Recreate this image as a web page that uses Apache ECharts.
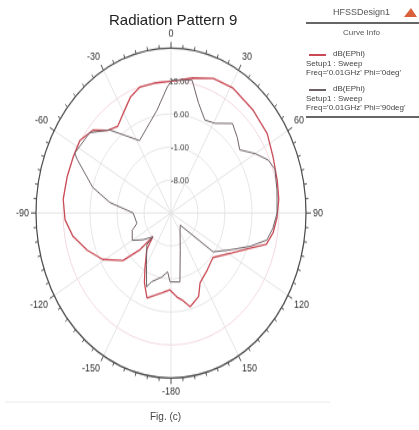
<!DOCTYPE html>
<html>
<head>
<meta charset="utf-8">
<script src="https://cdn.jsdelivr.net/npm/echarts@6/dist/echarts.min.js"></script>
<style>
html, body { margin: 0; padding: 0; background: #fff; }
#wrap { position: relative; width: 419px; height: 430px; overflow: hidden; }
/* the HFSS plot is an ellipse, so the polar chart gets stretched vertically */
#polar { position: absolute; left: 0; top: 0; width: 419px; height: 352px; transform: scaleY(1.222); transform-origin: 0 0; }
#frame { position: absolute; left: 0; top: 0; width: 419px; height: 430px; pointer-events: none; }
</style>
</head>
<body>
<div id="wrap">
  <div id="polar"></div>
  <div id="frame"></div>
</div>
<script>
// radius rings (dB)
var ringMin = -15
var ringMax = 20
var ringStep = 7

// dB(EPhi), Phi = 0deg  (angle in deg, clockwise from top)
var phi0Angle = [0.5, 11, 21, 31, 44, 56, 66, 76, 84, 92, 99, 105, 110, 118, 131, 142, 153, 158, 166, 171, 175, -179, -172, -161, -155, -150, -141, -137, -134, -129, -119, -110, -101, -93, -84, -74, -65, -57, -49, -43, -37, -30, -23, -17, -9, 0.5]
var phi0Db = [13.0, 14.2, 15.6, 16.0, 15.5, 15.1, 14.0, 13.4, 13.1, 12.5, 11.8, 10.6, 6.8, 3.0, -0.6, 0.3, 1.6, 4.1, 5.5, 3.7, 2.9, 1.3, 2.1, 4.1, 1.3, -1.5, -5.0, -8.1, -3.8, 1.0, 5.3, 8.1, 10.9, 12.5, 13.1, 13.0, 13.0, 13.2, 11.8, 9.0, 8.0, 9.6, 11.8, 12.9, 12.9, 13.0]

// dB(EPhi), Phi = 90deg
var phi90Angle = [0.5, 11, 17, 24, 31, 40, 47, 53, 60, 66, 71, 80, 90, 97, 103, 109, 117, 127, 137, 150, 163, 171, -179, -176, -170, -161, -158, -150, -137, -137, -128, -120, -110, -104, -90, -87, -82, -75, -65, -63, -51, -42, -28, -9.5, -2, 0.5]
var phi90Db = [13.2, 13.7, 9.4, 6.6, 7.2, 9.8, 8.5, 7.3, 10.2, 12.6, 13.5, 12.9, 12.5, 11.6, 10.5, 6.7, 2.2, -1.3, -11.5, -10.3, -6.8, -0.2, -0.4, -2.5, -1.2, 0.4, 1.9, -2.3, -5.8, -8.1, -5.8, -3.4, -4.3, -5.9, -5.2, -3.6, 1.0, 6.0, 11.8, 13.0, 12.1, 8.7, 2.4, 7.1, 11.8, 13.2]

var seriesNames = ["dB(EPhi)", "dB(EPhi)"]
var seriesColors = ['#c94a55', '#6e6266']
var legendLines = [
  ["dB(EPhi)", "Setup1 : Sweep", "Freq='0.01GHz' Phi='0deg'"],
  ["dB(EPhi)", "Setup1 : Sweep", "Freq='0.01GHz' Phi='90deg'"]
]

function toPolar (angles, dbs) {
  return angles.map(function (a, i) {
    return [dbs[i], a < 0 ? a + 360 : a]
  })
}

var polarChart = echarts.init(document.getElementById('polar'))
polarChart.setOption({
  animation: false,
  polar: {
    center: [171, 174.3],
    radius: 135
  },
  angleAxis: {
    type: 'value',
    min: 0,
    max: 360,
    interval: 30,
    startAngle: 90,
    clockwise: true,
    axisLine: { lineStyle: { color: '#4a4a4a', width: 1.2 } },
    axisTick: { show: true, length: 5, lineStyle: { color: '#4a4a4a' } },
    minorTick: { show: true, splitNumber: 6, length: 3, lineStyle: { color: '#555' } },
    splitLine: { show: true, lineStyle: { color: '#e3e3e3', width: 1 } },
    axisLabel: {
      margin: 7,
      fontSize: 9,
      color: '#333',
      fontFamily: 'Liberation Sans, Arial, sans-serif',
      formatter: function (v) {
        if (v === 360) return ''
        if (v === 180) return '-180'
        return v > 180 ? String(v - 360) : String(v)
      }
    }
  },
  radiusAxis: {
    type: 'value',
    min: ringMin,
    max: ringMax,
    interval: ringStep,
    axisLine: { show: false },
    axisTick: { show: false },
    splitLine: {
      show: true,
      lineStyle: { color: ['#e6e6e6', '#e6e6e6', '#e6e6e6', '#e6e6e6', '#f3d9dd', '#e6e6e6'], width: 1 }
    },
    axisLabel: {
      fontSize: 8,
      color: '#444',
      margin: -18,
      fontFamily: 'Liberation Sans, Arial, sans-serif',
      formatter: function (v) {
        return (v > ringMin && v < ringMax) ? v.toFixed(2) : ''
      }
    }
  },
  series: [
    {
      name: seriesNames[0],
      type: 'line',
      coordinateSystem: 'polar',
      symbol: 'none',
      lineStyle: { color: seriesColors[0], width: 1.3 },
      data: toPolar(phi0Angle, phi0Db)
    },
    {
      name: seriesNames[1],
      type: 'line',
      coordinateSystem: 'polar',
      symbol: 'none',
      lineStyle: { color: seriesColors[1], width: 1 },
      data: toPolar(phi90Angle, phi90Db)
    }
  ]
})

// title, curve info box and caption (not stretched)
var font = 'Liberation Sans, Arial, sans-serif'
var infoRows = [55, 65, 74, 90, 100, 109]
var graphics = [
  { type: 'text', left: 333, top: 8, style: { text: 'HFSSDesign1', font: '9px ' + font, fill: '#555' } },
  { type: 'polygon', shape: { points: [[404, 17], [411, 8], [417, 17]] }, style: { fill: '#d9603a' } },
  { type: 'line', shape: { x1: 306, y1: 23, x2: 419, y2: 23 }, style: { stroke: '#666', lineWidth: 2 } },
  { type: 'text', left: 343, top: 29, style: { text: 'Curve Info', font: '8px ' + font, fill: '#555' } },
  { type: 'line', shape: { x1: 306, y1: 117, x2: 419, y2: 117 }, style: { stroke: '#666', lineWidth: 2 } },
  { type: 'line', shape: { x1: 5, y1: 402, x2: 330, y2: 402 }, style: { stroke: '#e8e8e8', lineWidth: 1 } },
  { type: 'text', left: 150, top: 412, style: { text: 'Fig. (c)', font: '10px ' + font, fill: '#444' } }
]
legendLines.forEach(function (rows, k) {
  var y0 = infoRows[k * 3]
  graphics.push({ type: 'line', shape: { x1: 309, y1: y0, x2: 326, y2: y0 }, style: { stroke: seriesColors[k], lineWidth: 2 } })
  rows.forEach(function (t, j) {
    graphics.push({
      type: 'text',
      left: j === 0 ? 333 : 306,
      top: infoRows[k * 3 + j] - 5,
      style: { text: t, font: '8px ' + font, fill: '#444' }
    })
  })
})

var frameChart = echarts.init(document.getElementById('frame'))
frameChart.setOption({
  animation: false,
  title: {
    text: 'Radiation Pattern 9',
    left: 104,
    top: 8,
    textStyle: { fontSize: 15, fontWeight: 'normal', color: '#222', fontFamily: font }
  },
  graphic: graphics
})
</script>
</body>
</html>
